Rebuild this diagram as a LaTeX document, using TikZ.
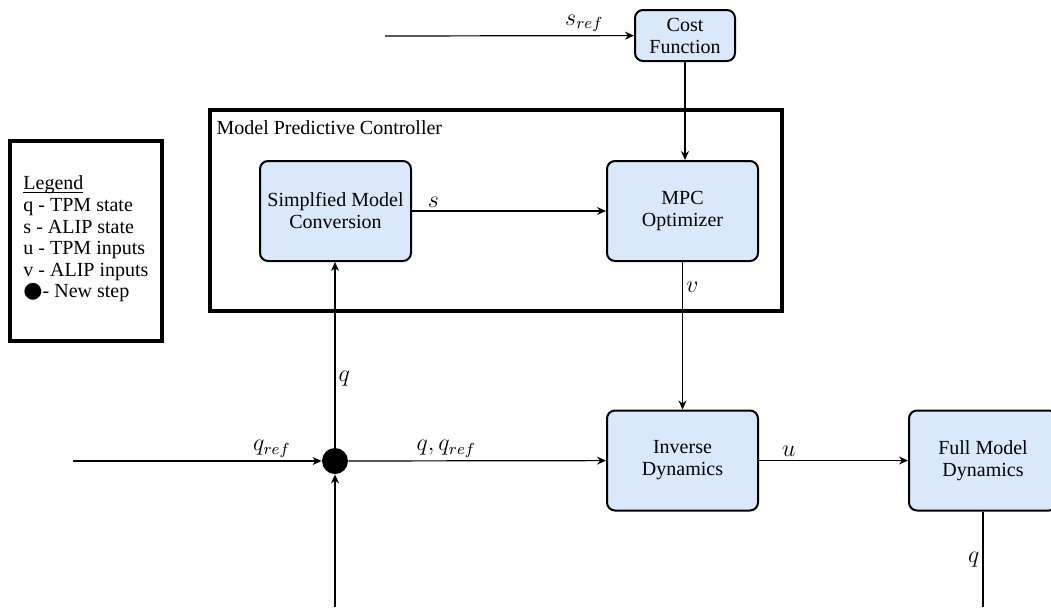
\documentclass[tikz,border=0pt]{standalone}
\usepackage{fontspec}
\setmainfont{Liberation Serif}
\newfontfamily\symfont{DejaVu Sans}
\usepackage{tikz}
\usetikzlibrary{positioning, arrows.meta}
\definecolor{blockfill}{HTML}{DAE8FC}

\begin{document}
\begin{tikzpicture}[x=0.5pt, y=-0.5pt,
      font=\fontsize{10}{11}\selectfont,
      >={Stealth[length=4.5pt,width=4pt]},
      block/.style={draw, line width=1pt, rounded corners=4pt, fill=blockfill,
                    align=center, minimum width=75.5pt, minimum height=50pt},
      frame/.style={draw, line width=1.8pt},
      sig/.style={->, line width=0.6pt},
      lbl/.style={font=\fontsize{11.5}{13}\selectfont, inner sep=1.5pt}
  ]
    \useasboundingbox (0,0) rectangle (1051,607);
    \clip (0,0) rectangle (1051,607);
    \node[frame, minimum width=76pt, minimum height=100pt] (legend) at (86,241) {};
    \node[align=left, font=\fontsize{10}{10.8}\selectfont] (legendtxt) at (86,246)
      {\underline{\smash{Legend}}\\q - TPM state\\s - ALIP state\\u - TPM inputs\\v - ALIP inputs\\{\symfont\fontsize{11}{10.8}\selectfont ●}- New step};
    \node[frame, minimum width=286pt, minimum height=100.5pt] (mpc) at (496,210.5) {};
    \node[anchor=north west, inner sep=3pt, xshift=1pt, yshift=-3pt] at (mpc.north west) {Model Predictive Controller};
    \node[block] (simp) at (335.5,211) {Simplfied Model\\Conversion};
    \node[block] (opt) at (682.5,211) {MPC\\Optimizer};
    \node[block, minimum width=50pt, minimum height=25.5pt, inner sep=1pt] (cost) at (685,35.5) {Cost\\Function};
    \node[block] (inv) at (682.5,460.5) {Inverse\\Dynamics};
    \node[block, minimum width=74pt] (full) at (983,460.5) {Full Model\\Dynamics};
    \node[circle, fill, inner sep=0pt, minimum size=13pt] (jn) at (335,461) {};
    \coordinate (qin) at (73,461);
    \coordinate (sin) at (385,36);
    \coordinate (qbot) at (335,607);
    \coordinate (qout) at (985,607);
    \draw[sig] (sin) -- node[lbl, above, pos=0.8]{$s_{ref}$} (cost);
    \draw[sig] (cost.south) -- (cost.south |- opt.north);
    \draw[sig] (simp) -- node[lbl, above, pos=0.11]{$s$} (opt);
    \draw[sig] (opt) -- node[lbl, right, pos=0.17]{$v$} (inv);
    \draw[sig] (qin) -- node[lbl, above, pos=0.8]{$q_{ref}$} (jn);
    \draw[sig] (qbot) -- (jn);
    \draw[sig] (jn) -- node[lbl, right, pos=0.37]{$q$} (jn |- simp.south);
    \draw[sig] (jn) -- node[lbl, above, pos=0.38]{$q, q_{ref}$} (inv);
    \draw[sig] (inv) -- node[lbl, above, pos=0.2]{$u$} (full);
    \draw[line width=0.6pt] (full.south) -- node[lbl, left]{$q$} (full.south |- qout);
  \end{tikzpicture}
\end{document}
